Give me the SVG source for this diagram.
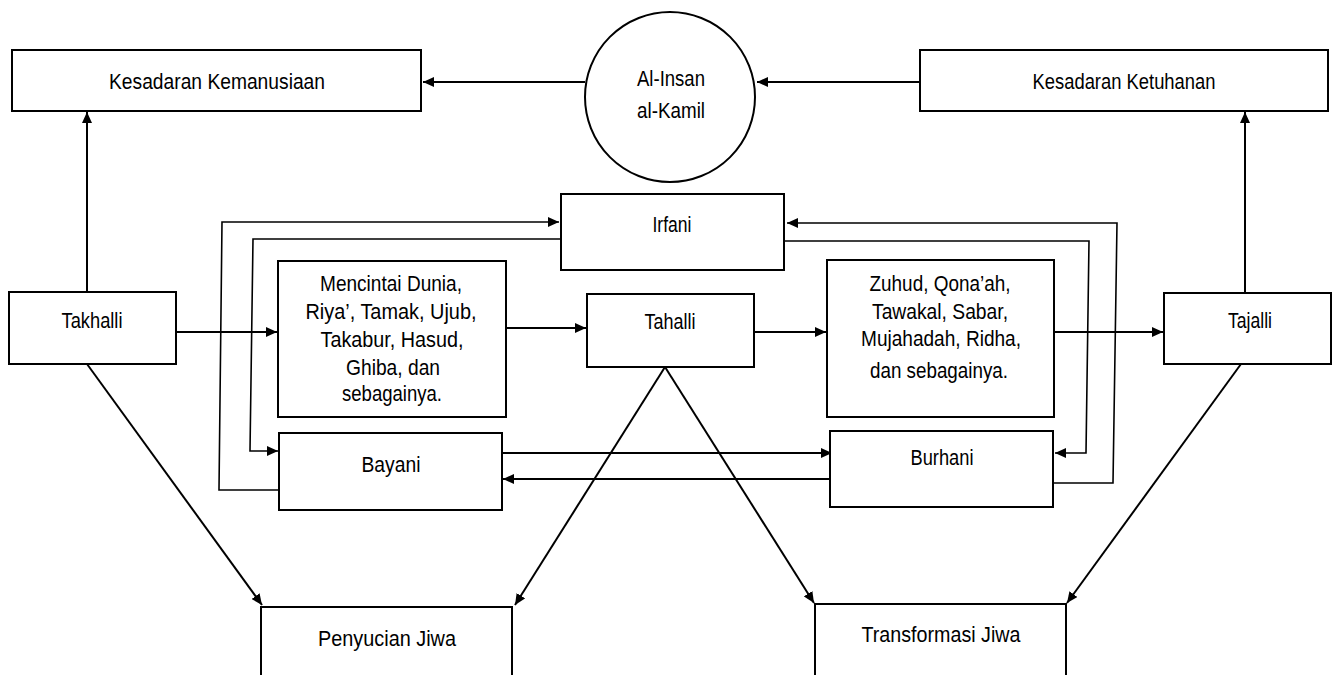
<svg xmlns="http://www.w3.org/2000/svg" width="1334" height="675" viewBox="0 0 1334 675">
<style>
.box{fill:#fff;stroke:#000;stroke-width:2}
.t{font-family:"Liberation Sans Narrow","Arial Narrow","Liberation Sans",Arial,sans-serif;font-size:22px;fill:#000;text-anchor:middle}
.c{fill:none;stroke:#000;stroke-width:2}
.l{fill:none;stroke:#000;stroke-width:1.6}
</style>
<defs>
<marker id="ah" markerUnits="userSpaceOnUse" markerWidth="12" markerHeight="10" refX="11" refY="5" orient="auto">
<path d="M0,0 L11,5 L0,10 z" fill="#000"/>
</marker>
</defs>
<rect width="1334" height="675" fill="#fff"/>

<g id="connectors">
<line class="c" x1="585" y1="82" x2="423" y2="82" marker-end="url(#ah)"/>
<line class="c" x1="920" y1="82" x2="757" y2="82" marker-end="url(#ah)"/>
<line class="c" x1="87" y1="292" x2="87" y2="112" marker-end="url(#ah)"/>
<line class="c" x1="1245" y1="293" x2="1245" y2="112" marker-end="url(#ah)"/>
<line class="c" x1="176" y1="332" x2="277" y2="332" marker-end="url(#ah)"/>
<line class="c" x1="506" y1="328" x2="586" y2="328" marker-end="url(#ah)"/>
<line class="c" x1="754" y1="332" x2="826" y2="332" marker-end="url(#ah)"/>
<line class="c" x1="1054" y1="332" x2="1163" y2="332" marker-end="url(#ah)"/>
<polyline class="l" points="284,490 219,490 222,222 559,222" marker-end="url(#ah)"/>
<polyline class="l" points="561,239 253,239 250,451 278,451" marker-end="url(#ah)"/>
<polyline class="l" points="1052,483 1113,483 1117,223 787,223" marker-end="url(#ah)"/>
<polyline class="l" points="784,241 1089,241 1086,453 1055,453" marker-end="url(#ah)"/>
<line class="c" x1="502" y1="453" x2="832" y2="453" marker-end="url(#ah)"/>
<line class="c" x1="835" y1="479" x2="503" y2="479" marker-end="url(#ah)"/>
<line class="c" x1="87" y1="364" x2="262" y2="605" marker-end="url(#ah)"/>
<line class="c" x1="665" y1="367" x2="515" y2="605" marker-end="url(#ah)"/>
<line class="c" x1="665" y1="367" x2="814" y2="603" marker-end="url(#ah)"/>
<line class="c" x1="1241" y1="364" x2="1067" y2="603" marker-end="url(#ah)"/>
</g>

<g id="kesadaran-kemanusiaan">
<rect class="box" x="12" y="50" width="409" height="61"/>
<text class="t" x="217" y="89" textLength="216" lengthAdjust="spacingAndGlyphs">Kesadaran  Kemanusiaan</text>
</g>
<g id="al-insan-al-kamil">
<circle class="box" cx="670" cy="97" r="85"/>
<text class="t" x="671" y="86" textLength="68" lengthAdjust="spacingAndGlyphs">Al-Insan</text>
<text class="t" x="671" y="118" textLength="68" lengthAdjust="spacingAndGlyphs">al-Kamil</text>
</g>
<g id="kesadaran-ketuhanan">
<rect class="box" x="920" y="50" width="408" height="61"/>
<text class="t" x="1124" y="89" textLength="183" lengthAdjust="spacingAndGlyphs">Kesadaran  Ketuhanan</text>
</g>
<g id="irfani">
<rect class="box" x="561" y="194" width="223" height="76"/>
<text class="t" x="672" y="232" textLength="39" lengthAdjust="spacingAndGlyphs">Irfani</text>
</g>
<g id="takhalli">
<rect class="box" x="9" y="292" width="167" height="72"/>
<text class="t" x="92" y="328" textLength="61" lengthAdjust="spacingAndGlyphs">Takhalli</text>
</g>
<g id="sifat-tercela">
<rect class="box" x="278" y="261" width="228" height="156"/>
<text class="t" x="391" y="291" textLength="142" lengthAdjust="spacingAndGlyphs">Mencintai  Dunia,</text>
<text class="t" x="391" y="319" textLength="171" lengthAdjust="spacingAndGlyphs">Riya’, Tamak,  Ujub,</text>
<text class="t" x="392" y="347" textLength="143" lengthAdjust="spacingAndGlyphs">Takabur,  Hasud,</text>
<text class="t" x="393" y="375" textLength="94" lengthAdjust="spacingAndGlyphs">Ghiba,  dan</text>
<text class="t" x="392" y="401" textLength="100" lengthAdjust="spacingAndGlyphs">sebagainya.</text>
</g>
<g id="tahalli">
<rect class="box" x="587" y="294" width="167" height="73"/>
<text class="t" x="670" y="329" textLength="51" lengthAdjust="spacingAndGlyphs">Tahalli</text>
</g>
<g id="sifat-terpuji">
<rect class="box" x="827" y="260" width="227" height="157"/>
<text class="t" x="940" y="291" textLength="141" lengthAdjust="spacingAndGlyphs">Zuhud,  Qona’ah,</text>
<text class="t" x="940" y="319" textLength="136" lengthAdjust="spacingAndGlyphs">Tawakal,  Sabar,</text>
<text class="t" x="941" y="346" textLength="160" lengthAdjust="spacingAndGlyphs">Mujahadah,  Ridha,</text>
<text class="t" x="939" y="378" textLength="138" lengthAdjust="spacingAndGlyphs">dan  sebagainya.</text>
</g>
<g id="tajalli">
<rect class="box" x="1164" y="293" width="167" height="71"/>
<text class="t" x="1250" y="328" textLength="44" lengthAdjust="spacingAndGlyphs">Tajalli</text>
</g>
<g id="bayani">
<rect class="box" x="279" y="433" width="223" height="77"/>
<text class="t" x="391" y="472" textLength="59" lengthAdjust="spacingAndGlyphs">Bayani</text>
</g>
<g id="burhani">
<rect class="box" x="830" y="431" width="223" height="76"/>
<text class="t" x="942" y="465" textLength="63" lengthAdjust="spacingAndGlyphs">Burhani</text>
</g>
<g id="penyucian-jiwa">
<rect class="box" x="261" y="607" width="251" height="100"/>
<text class="t" x="387" y="646" textLength="138" lengthAdjust="spacingAndGlyphs">Penyucian  Jiwa</text>
</g>
<g id="transformasi-jiwa">
<rect class="box" x="815" y="604" width="251" height="100"/>
<text class="t" x="941" y="642" textLength="159" lengthAdjust="spacingAndGlyphs">Transformasi   Jiwa</text>
</g>
</svg>
